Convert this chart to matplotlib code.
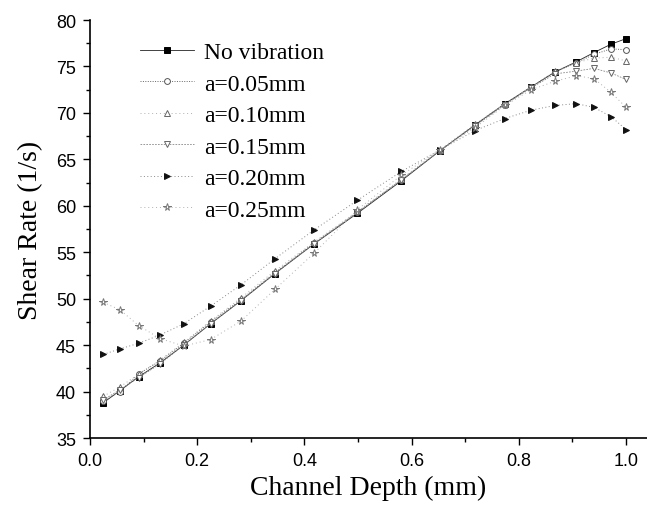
import matplotlib
matplotlib.use('Agg')
import matplotlib.pyplot as plt
from matplotlib.ticker import MultipleLocator

plt.rcParams.update({
    'font.family': ['Liberation Sans', 'DejaVu Sans'],
    'axes.linewidth': 1.2,
    'xtick.direction': 'out',
    'ytick.direction': 'out',
})

SERIF = ['Liberation Serif', 'DejaVu Serif']

# channel depth (mm) at the sampled nodes
depth = [0.025, 0.056, 0.091, 0.131, 0.175, 0.225, 0.282, 0.345, 0.418, 0.499,
         0.581, 0.652, 0.718, 0.774, 0.823, 0.867, 0.907, 0.940, 0.972, 1.0]

# shear rate (1/s) for each vibration amplitude
no_vib = [38.8, 40.1, 41.6, 43.1, 45.0, 47.3, 49.8, 52.7, 55.9, 59.2,
          62.7, 65.9, 68.7, 71.0, 72.8, 74.4, 75.5, 76.5, 77.4, 78.0]
a005 = [39.0, 40.0, 41.9, 43.3, 45.2, 47.5, 49.9, 52.8, 56.0, 59.3,
        62.8, 65.9, 68.7, 70.9, 72.8, 74.4, 75.4, 76.3, 76.9, 76.8]
a010 = [39.5, 40.5, 41.9, 43.4, 45.3, 47.6, 50.1, 53.0, 56.1, 59.4,
        62.9, 66.0, 68.8, 71.0, 72.8, 74.5, 75.4, 75.9, 76.0, 75.6]
a015 = [39.1, 40.2, 41.5, 43.0, 45.0, 47.3, 49.8, 52.7, 55.9, 59.3,
        62.8, 65.9, 68.6, 70.9, 72.7, 74.2, 74.5, 74.8, 74.3, 73.6]
a020 = [44.0, 44.6, 45.2, 46.1, 47.3, 49.2, 51.5, 54.3, 57.4, 60.6,
        63.7, 66.0, 68.1, 69.4, 70.3, 70.8, 71.0, 70.6, 69.6, 68.2]
a025 = [49.6, 48.8, 47.1, 45.7, 44.9, 45.6, 47.6, 51.0, 54.9, 59.6,
        63.3, 66.0, 68.4, 70.8, 72.5, 73.4, 74.0, 73.7, 72.2, 70.6]

labels = ['No vibration', 'a=0.05mm', 'a=0.10mm', 'a=0.15mm', 'a=0.20mm', 'a=0.25mm']

styles = [
    dict(color='#222222', ls='-', lw=0.6, marker='s', mfc='black', mec='black', ms=4),
    dict(color='#666666', ls=(0, (1, 1.5)), lw=0.7, marker='o', mfc='white', mec='#555555', ms=4.2),
    dict(color='#b0b0b0', ls=(0, (1, 3)), lw=0.7, marker='^', mfc='white', mec='#666666', ms=4.5),
    dict(color='#888888', ls=(0, (2, 1.5)), lw=0.6, marker='v', mfc='white', mec='#666666', ms=4.5),
    dict(color='#888888', ls=(0, (1, 2.5)), lw=0.7, marker='>', mfc='#111111', mec='#111111', ms=4.5),
    dict(color='#b0b0b0', ls=(0, (1, 3)), lw=0.7, marker='*', mfc='white', mec='#777777', ms=5.5),
]

fig = plt.figure(figsize=(6.47, 5.06), dpi=100)
ax = fig.add_axes([0.139, 0.1324, 0.861, 0.826])

for ys, lab, st in zip([no_vib, a005, a010, a015, a020, a025], labels, styles):
    ax.plot(depth, ys, label=lab, mew=0.7, **st)

ax.set_xlim(0, 1.039)
ax.set_ylim(35, 80)
ax.xaxis.set_major_locator(MultipleLocator(0.2))
ax.xaxis.set_minor_locator(MultipleLocator(0.1))
ax.yaxis.set_major_locator(MultipleLocator(5))
ax.yaxis.set_minor_locator(MultipleLocator(2.5))
ax.tick_params(which='major', length=5, width=1.0, labelsize=13, pad=5)
ax.tick_params(which='minor', length=3, width=1.0)
ax.set_xticks([0.0, 0.2, 0.4, 0.6, 0.8, 1.0])
ax.set_xticklabels(['0.0', '0.2', '0.4', '0.6', '0.8', '1.0'])

for side in ('top', 'right'):
    ax.spines[side].set_visible(False)

ax.set_xlabel('Channel Depth (mm)', family=SERIF, fontsize=20, labelpad=4)
ax.set_ylabel('Shear Rate (1/s)', family=SERIF, fontsize=20, labelpad=9)

ax.legend(loc='upper left', bbox_to_anchor=(0.09, 0.948), frameon=False,
          prop={'family': SERIF, 'size': 17}, handlelength=2.3,
          handletextpad=0.4, labelspacing=0.42, borderpad=0, borderaxespad=0)

fig.savefig('out.png', dpi=100, facecolor='white')
